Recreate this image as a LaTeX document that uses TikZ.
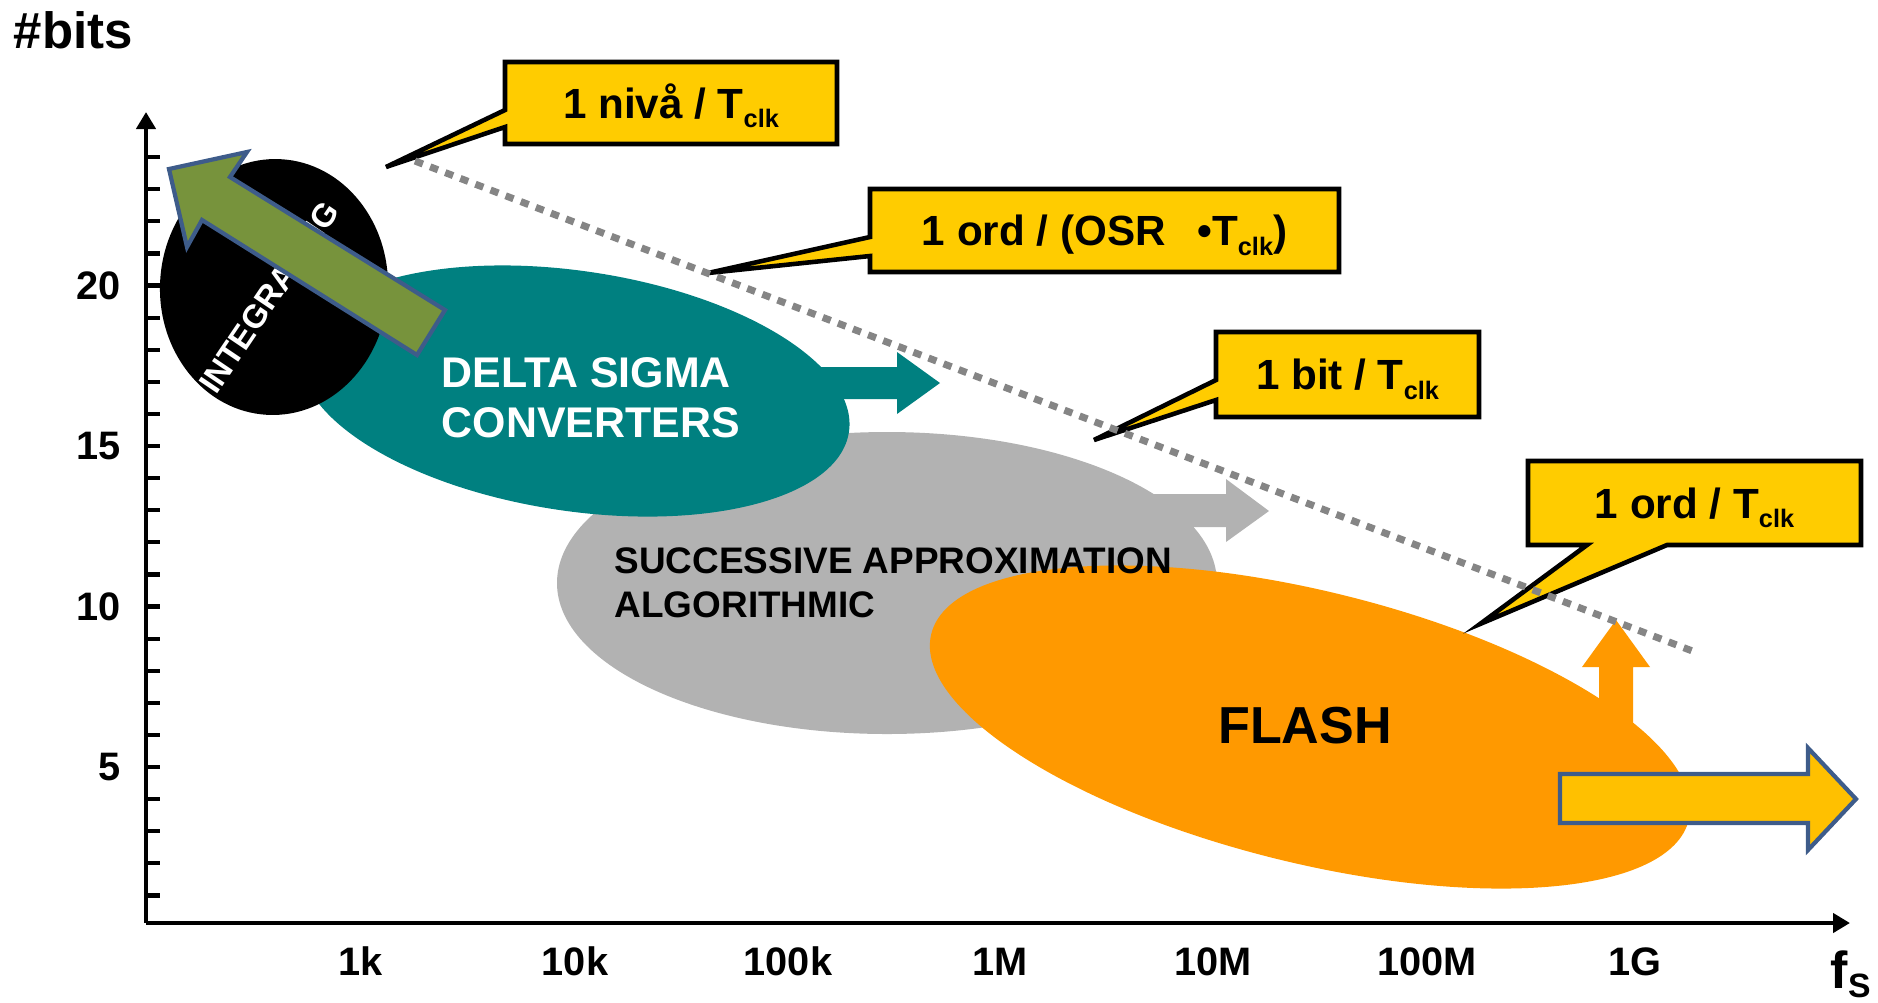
\documentclass[tikz,border=0pt]{standalone}
\usepackage{fontspec}
\setmainfont{Liberation Sans}
\usetikzlibrary{arrows.meta}
\definecolor{tealc}{HTML}{008080}
\definecolor{greyc}{HTML}{B2B2B2}
\definecolor{orangec}{HTML}{FF9900}
\definecolor{calloutc}{HTML}{FFCC00}
\definecolor{yarrowc}{HTML}{FFC000}
\definecolor{greenc}{HTML}{77933C}
\definecolor{borderc}{HTML}{3E5C8A}
\definecolor{dotc}{HTML}{858585}
\newcommand{\sclk}{\raisebox{-2.8pt}{\fontsize{7.2}{8}\selectfont clk}}
\begin{document}
\begin{tikzpicture}[x=0.01cm, y=-0.01cm,
  axisline/.style={line width=1.2pt, black, -{Triangle[length=0.17cm, width=0.19cm]}},
  tickline/.style={line width=1.2pt, black},
  ticklabel/.style={font=\fontsize{11.3}{13}\selectfont\bfseries, inner sep=0pt},
  callout/.style={fill=calloutc, draw=black, line width=1.3pt, line join=miter},
  callouttext/.style={font=\fontsize{12}{14}\selectfont\bfseries, inner sep=0pt, anchor=base},
  blockarrow/.style={draw=borderc, line width=1.2pt, line join=miter},
  dotline/.style={dotc, line width=2pt, dash pattern=on 2.4pt off 2.2pt},
  blobtext/.style={inner sep=0pt, anchor=base west},
]
\useasboundingbox (0,0) rectangle (1878,1002);

% grey region
\fill[greyc] (887,583) ellipse [x radius=330, y radius=151];
\fill[greyc] (1140,494) -- (1226,494) -- (1226,479) -- (1269,511) -- (1226,542) -- (1226,527) -- (1140,527) -- cycle;

% orange region
\fill[orangec, rotate around={-13.8:(1310,727)}] (1310,727) ellipse [x radius=390, y radius=136];
\fill[orangec] (1599,730) -- (1599,667) -- (1582,667) -- (1616,620) -- (1650,667) -- (1633,667) -- (1633,730) -- cycle;

% teal region
\fill[tealc, rotate around={-8.5:(575,391)}] (575,391) ellipse [x radius=277, y radius=120];
\fill[tealc] (800,367) -- (897,367) -- (897,352) -- (940,383) -- (897,414) -- (897,399) -- (800,399) -- cycle;

% black integrating ellipse
\fill[black, rotate around={-3:(274,287)}] (274,287) ellipse [x radius=114, y radius=128];
\node[rotate=56, text=white, font=\fontsize{9.3}{11}\selectfont\bfseries, inner sep=0pt] (integ) at (269,297) {INTEGRATING};

% green arrow
\filldraw[greenc, blockarrow] (169,169) -- (247,152) -- (230,177) -- (445,310) -- (417,355) -- (202,220) -- (187,247) -- cycle;

% yellow arrow
\filldraw[yarrowc, blockarrow] (1560,774) -- (1808,774) -- (1808,748) -- (1856,799) -- (1808,850) -- (1808,823) -- (1560,823) -- cycle;

% axes
\coordinate (O) at (146,923);
\coordinate (ytop) at (146,112);
\coordinate (xend) at (1850,923);
\draw[axisline] (O) -- (ytop);
\draw[axisline] (O) -- (xend);
\foreach \b in {1,...,24} \draw[tickline] (146,{927.5-32.1*\b}) -- (160,{927.5-32.1*\b});

\node[ticklabel, anchor=east] (l20) at (121,285.5) {20};
\node[ticklabel, anchor=east] (l15) at (121,446) {15};
\node[ticklabel, anchor=east] (l10) at (121,606.5) {10};
\node[ticklabel, anchor=east] (l5) at (121,767) {5};

\node[ticklabel, anchor=base] (x1k) at (361,975) {1k};
\node[ticklabel, anchor=base] (x10k) at (575,975) {10k};
\node[ticklabel, anchor=base] (x100k) at (788,975) {100k};
\node[ticklabel, anchor=base] (x1M) at (1000,975) {1M};
\node[ticklabel, anchor=base] (x10M) at (1213,975) {10M};
\node[ticklabel, anchor=base] (x100M) at (1427,975) {100M};
\node[ticklabel, anchor=base] (x1G) at (1635,975) {1G};

\node[anchor=base west, inner sep=0pt, font=\fontsize{14.5}{17}\selectfont\bfseries] (ylab) at (13,48) {\#bits};
\node[anchor=base west, inner sep=0pt, font=\fontsize{14.8}{17}\selectfont\bfseries] (xlab) at (1830,988) {f\raisebox{-2.6pt}{\fontsize{9.6}{11}\selectfont S}};

% callouts
\draw[callout] (505,62) -- (837,62) -- (837,144) -- (505,144) -- (505,127) -- (386,167) -- (505,110) -- cycle;
\draw[callout] (870,189) -- (1339,189) -- (1339,272) -- (870,272) -- (870,256) -- (708,273) -- (870,237) -- cycle;
\draw[callout] (1216,332) -- (1479,332) -- (1479,417) -- (1216,417) -- (1216,400) -- (1094,440) -- (1216,380) -- cycle;
\draw[callout] (1528,461) -- (1861,461) -- (1861,545) -- (1667,545) -- (1480,624) -- (1587,545) -- (1528,545) -- cycle;

% dotted limit line
\coordinate (d1) at (415,161);
\coordinate (d2) at (1695,652);
\draw[dotline] (d1) -- (d2);

% callout texts
\node[callouttext] (c1) at (671,118) {1 nivå / T\sclk};
\node[callouttext] (c2) at (1104.5,245.5) {1 ord / (OSR\hspace{0.75em}•T\sclk)};
\node[callouttext] (c3) at (1347.5,389.5) {1 bit / T\sclk};
\node[callouttext] (c4) at (1694.5,518) {1 ord / T\sclk};

% region texts
\node[blobtext, text=white, font=\fontsize{12.2}{14}\selectfont\bfseries] (ds1) at (441,387) {DELTA SIGMA};
\node[blobtext, text=white, font=\fontsize{12.2}{14}\selectfont\bfseries] (ds2) at (441,437) {CONVERTERS};
\node[blobtext, font=\fontsize{10.5}{12}\selectfont\bfseries] (sa1) at (614,573) {SUCCESSIVE APPROXIMATION};
\node[blobtext, font=\fontsize{10.5}{12}\selectfont\bfseries] (sa2) at (614,617) {ALGORITHMIC};
\node[inner sep=0pt, anchor=base, font=\fontsize{14.8}{17}\selectfont\bfseries] (flash) at (1305,743) {FLASH};
\end{tikzpicture}
\end{document}
